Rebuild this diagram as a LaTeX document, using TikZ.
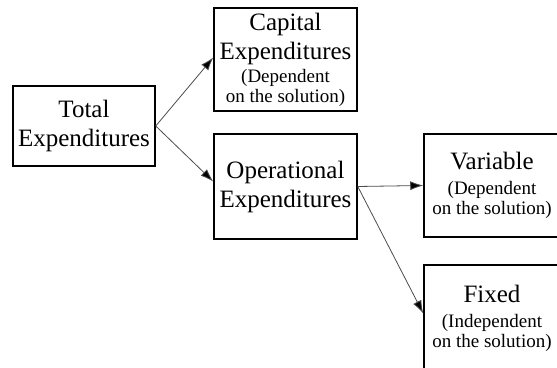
\documentclass[tikz,border=0pt]{standalone}
\usepackage{fontspec}
\setmainfont{Liberation Serif}
\usetikzlibrary{arrows.meta}
\usetikzlibrary{positioning}

\newcommand{\bigtxt}{\fontsize{12.5}{17}\selectfont}
\newcommand{\smalltxt}{\fontsize{9.5}{11}\selectfont}

\tikzset{
  box/.style={draw=black,line width=0.75pt,rectangle,align=center,inner sep=1pt},
  link/.style={draw=black!70,line width=0.4pt,-{Latex[length=6.5pt,width=4.5pt,fill=black]}}
}

\begin{document}
\begin{tikzpicture}[x=0.5pt,y=-0.5pt]
\useasboundingbox (0,0) rectangle (557,368);
\node[box,minimum width=71pt,minimum height=40pt] (total) at (84,126)
  {{\bigtxt Total}\\[2.5pt]{\bigtxt Expenditures}};
\node[box,minimum width=71.5pt,minimum height=51.5pt] (capex) at (285.5,59.5)
  {{\bigtxt Capital}\\[2.5pt]{\bigtxt Expenditures}\\[-0.5pt]{\smalltxt (Dependent}\\[-2pt]{\smalltxt on the solution)}};
\node[box,minimum width=71.5pt,minimum height=52.5pt] (opex) at (285.5,186.5)
  {{\bigtxt Operational}\\[2.5pt]{\bigtxt Expenditures}};
\node[box,minimum width=68pt,minimum height=51.5pt] (variable) at (492,185.5)
  {{\bigtxt Variable}\\[0.5pt]{\smalltxt (Dependent}\\[-2pt]{\smalltxt on the solution)}};
\node[box,minimum width=68pt,minimum height=53.5pt] (fixed) at (492,318.5)
  {{\bigtxt Fixed}\\[0.5pt]{\smalltxt (Independent}\\[-2pt]{\smalltxt on the solution)}};

\draw[link] (total.east) -- ([yshift=1pt]capex.west);
\draw[link] (total.east) -- ([yshift=2.5pt]opex.west);
\draw[link] (opex.east) -- (variable.west);
\draw[link] (opex.east) -- ([yshift=2.5pt]fixed.west);
\end{tikzpicture}
\end{document}
